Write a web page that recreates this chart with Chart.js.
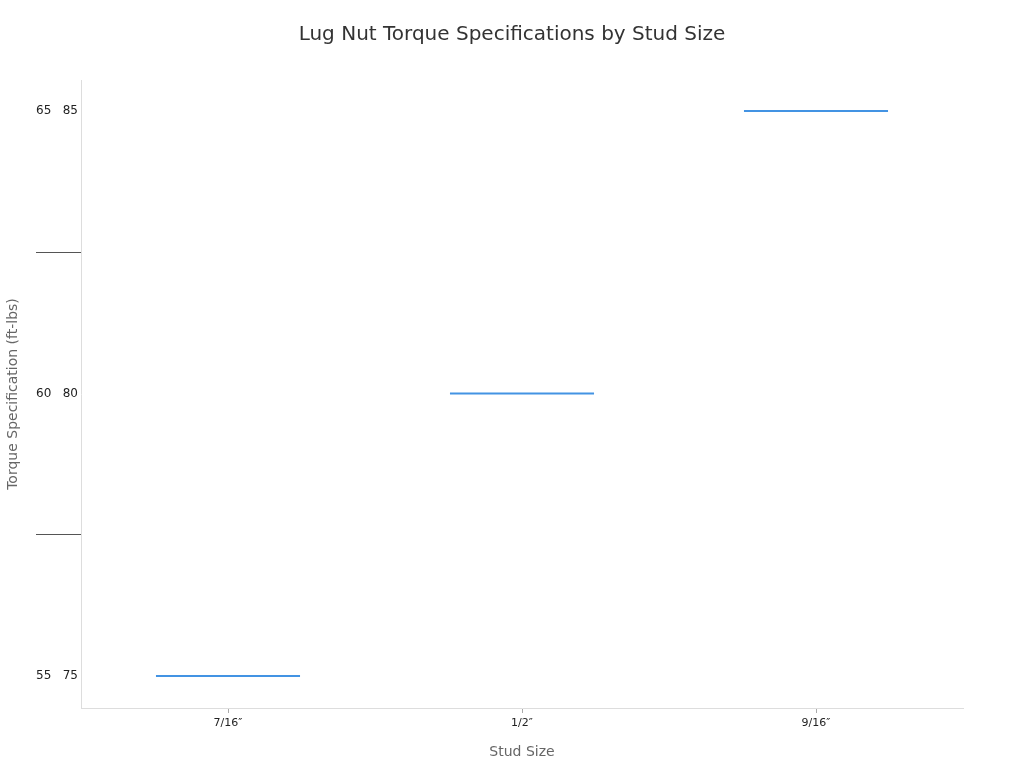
<!DOCTYPE html>
<html>
<head>
<meta charset="utf-8">
<script src="https://cdn.jsdelivr.net/npm/chart.js@4/dist/chart.umd.min.js"></script>
<style>
  html, body { margin: 0; padding: 0; background: #fff; }
  #wrap { width: 1024px; height: 768px; }
</style>
</head>
<body>
<div id="wrap"><canvas id="chart"></canvas></div>
<script>
const studSizes = ['7/16″', '1/2″', '9/16″'];
const minTorque = [55, 60, 65];
const maxTorque = [75, 80, 85];
const yTickValues = [55, 57.5, 60, 62.5, 65];

// labels like "55   75" sit on the min torque value
const rangeLabels = minTorque.map((v, i) => v + '   ' + maxTorque[i]);

const lineHalf = 0.018; // half thickness of the drawn range line, in axis units

Chart.defaults.font.family = 'DejaVu Sans, sans-serif';

const data = {
  labels: studSizes,
  datasets: [{
    label: 'Torque range',
    data: minTorque.map(v => [v - lineHalf, v + lineHalf]),
    backgroundColor: '#4393e3',
    borderWidth: 0,
    barPercentage: 0.49,
    categoryPercentage: 1,
  }],
};

const config = {
  type: 'bar',
  data: data,
  options: {
    responsive: true,
    maintainAspectRatio: false,
    animation: false,
    layout: {
      padding: { top: 0, right: 0, bottom: 7, left: 0 },
    },
    scales: {
      x: {
        offset: true,
        border: { color: '#dddddd' },
        grid: {
          offset: false,
          drawOnChartArea: false,
          tickLength: 5,
          color: '#aaaaaa',
        },
        ticks: {
          color: '#222',
          font: { size: 11 },
          padding: 4,
        },
        title: {
          display: true,
          text: 'Stud Size',
          color: '#666',
          font: { size: 14 },
          padding: { top: 10, bottom: 0 },
        },
      },
      y: {
        min: 54.434,
        max: 65.549,
        border: { color: '#dddddd' },
        afterBuildTicks: (scale) => {
          scale.ticks = yTickValues.map(v => ({ value: v }));
        },
        afterFit: (scale) => {
          scale.width = 81;
        },
        grid: {
          drawOnChartArea: false,
          tickLength: 45,
          color: (ctx) => minTorque.includes(ctx.tick && ctx.tick.value) ? 'rgba(0,0,0,0)' : '#555555',
        },
        ticks: {
          color: '#222',
          font: { size: 12 },
          padding: -42,
          callback: (value) => {
            const i = minTorque.indexOf(value);
            return i >= 0 ? rangeLabels[i] : '';
          },
        },
        title: {
          display: true,
          text: 'Torque Specification (ft-lbs)',
          color: '#666',
          font: { size: 14 },
          padding: { top: 5, bottom: 4 },
        },
      },
      // empty right-hand axis that only reserves space so the title stays centred on the page
      yRight: {
        position: 'right',
        display: true,
        border: { display: false },
        grid: { display: false },
        ticks: { display: false },
        afterFit: (scale) => {
          scale.width = 61;
        },
      },
    },
    plugins: {
      legend: { display: false },
      tooltip: { enabled: false },
      title: {
        display: true,
        text: 'Lug Nut Torque Specifications by Stud Size',
        color: '#333',
        font: { size: 20, weight: 'normal' },
        padding: { top: 23, bottom: 33 },
      },
    },
  },
};

new Chart(document.getElementById('chart'), config);
</script>
</body>
</html>
